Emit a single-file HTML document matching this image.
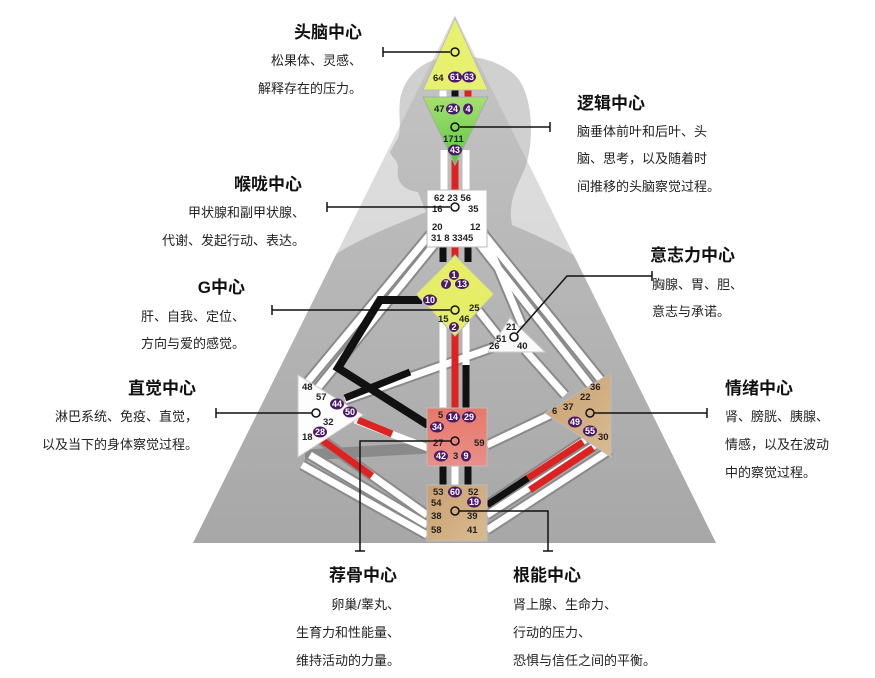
<!DOCTYPE html>
<html><head><meta charset="utf-8"><style>
html,body{margin:0;padding:0;background:#fff;width:875px;height:678px;overflow:hidden}
svg{display:block}
.t{font-family:"Liberation Sans","Noto Sans CJK SC",sans-serif;font-weight:bold;font-size:17px;fill:#111}
.d{font-family:"Liberation Sans","Noto Sans CJK SC",sans-serif;font-size:13px;fill:#222}
.g{font-family:"Liberation Sans",sans-serif;font-size:9.5px;font-weight:bold;fill:#222}
.p{font-family:"Liberation Sans",sans-serif;font-size:9px;font-weight:bold;fill:#fff}
</style></head><body>
<svg width="875" height="678" viewBox="0 0 875 678" xmlns="http://www.w3.org/2000/svg">
<defs>
<linearGradient id="bg" x1="0" y1="0" x2="0" y2="1"><stop offset="0" stop-color="#e2e2e2"/><stop offset="1" stop-color="#cfcfcf"/></linearGradient>
<linearGradient id="body" x1="0" y1="0" x2="0" y2="1"><stop offset="0" stop-color="#c4c4c4"/><stop offset="1" stop-color="#a6a6a6"/></linearGradient>
<linearGradient id="sac" x1="0" y1="0" x2="0" y2="1"><stop offset="0" stop-color="#e8786a"/><stop offset="1" stop-color="#e89088"/></linearGradient>
<linearGradient id="tan" x1="0" y1="0" x2="1" y2="1"><stop offset="0" stop-color="#c8a070"/><stop offset="1" stop-color="#d9bb92"/></linearGradient>
<linearGradient id="ajna" x1="0" y1="0" x2="0" y2="1"><stop offset="0" stop-color="#a6e070"/><stop offset="1" stop-color="#58c840"/></linearGradient>
<clipPath id="tri"><polygon points="455,15 193,543 716,543"/></clipPath>
<clipPath id="headc"><rect x="380" y="40" width="160" height="170"/></clipPath>
<path id="bodyp" d="M458,56 C428,56 405,72 400,100 C398,118 402,128 398,138 L390,152 C392,158 398,160 398,168 C396,180 402,190 418,192 L426,212 C380,232 320,250 290,300 L180,560 L740,560 L640,330 C615,270 560,245 512,225 C508,205 515,190 522,175 C535,150 535,95 515,75 C500,62 480,56 458,56 Z"/>
</defs>
<!-- background triangle -->
<polygon points="455,15 193,543 716,543" fill="url(#bg)"/>
<!-- body silhouette -->
<use href="#bodyp" clip-path="url(#headc)" fill="#d0d0d0"/>
<use href="#bodyp" clip-path="url(#tri)" fill="url(#body)"/>
<!-- channels: white strips -->
<g stroke="#8a8a8a" stroke-width="11" fill="none" stroke-linecap="butt">
<path d="M432,232 L305,385 M438,240 L312,395"/>
<path d="M482,232 L605,385 M476,240 L598,395"/>
<path d="M480,225 L522,325 M470,300 L500,338"/>
<path d="M428,448 L305,455 M427,515 L322,440 M427,525 L310,455 M427,535 L302,465"/>
<path d="M487,505 L585,440 M487,515 L595,445 M487,530 L610,450"/>
<path d="M487,445 L550,415 M525,350 L565,395 M345,400 L500,345"/>
</g>
<g stroke="#fff" stroke-width="7" fill="none">
<path d="M432,232 L305,385 M438,240 L312,395"/>
<path d="M482,232 L605,385 M476,240 L598,395"/>
<path d="M480,225 L522,325 M470,300 L500,338"/>
<path d="M428,448 L355,420 M427,515 L322,440 M427,525 L310,455 M427,535 L302,465"/>
<path d="M487,505 L585,440 M487,515 L595,445 M487,530 L610,450"/>
<path d="M487,445 L550,415 M525,350 L565,395 M345,400 L500,345"/>
</g>
<!-- vertical channels -->
<g stroke-width="7">
<line x1="443" y1="90" x2="443" y2="100" stroke="#fff"/>
<line x1="455" y1="90" x2="455" y2="100" stroke="#111"/>
<line x1="468" y1="90" x2="468" y2="100" stroke="#d22"/>
<line x1="444" y1="150" x2="444" y2="192" stroke="#fff"/>
<line x1="455" y1="160" x2="455" y2="192" stroke="#d22"/>
<line x1="466" y1="150" x2="466" y2="192" stroke="#fff"/>
<line x1="443" y1="245" x2="443" y2="262" stroke="#111"/>
<line x1="455" y1="245" x2="455" y2="262" stroke="#d22"/>
<line x1="468" y1="245" x2="468" y2="262" stroke="#111"/>
<line x1="443" y1="320" x2="443" y2="410" stroke="#fff"/>
<line x1="455" y1="320" x2="455" y2="410" stroke="#d22"/>
<line x1="466" y1="320" x2="466" y2="365" stroke="#fff"/>
<line x1="466" y1="365" x2="466" y2="410" stroke="#111"/>
<line x1="443" y1="463" x2="443" y2="487" stroke="#111"/>
<line x1="455" y1="463" x2="455" y2="487" stroke="#fff"/>
<line x1="468" y1="463" x2="468" y2="487" stroke="#111"/>
</g>
<!-- colored channel parts -->
<g stroke-width="7" fill="none">
<path d="M422,300 L380,300 L338,368 L428,425" stroke="#111" stroke-width="8"/>
<path d="M345,398 L410,372" stroke="#111"/>
<path d="M358,420 L392,434" stroke="#d22"/>
<path d="M322,440 L372,476" stroke="#d22"/>
<path d="M487,505 L528,478" stroke="#111"/>
<path d="M528,478 L583,442" stroke="#d22"/>
<path d="M530,490 L593,448" stroke="#d22"/>
</g>
<!-- centers -->
<polygon points="455,18 423,90 488,90" fill="#e8f070" stroke="#bbb"/>
<polygon points="423,97 488,97 455,165" fill="url(#ajna)" stroke="#aaa"/>
<rect x="427" y="190" width="60" height="57" fill="#fff" stroke="#bbb"/>
<polygon points="455,255 494,294 455,336 416,294" fill="#e6ee68" stroke="#bbb"/>
<polygon points="510,318 488,352 545,352" fill="#fafafa" stroke="#ccc"/>
<polygon points="298,375 363,415 298,457" fill="#fdfdfd" stroke="#ccc"/>
<rect x="427" y="408" width="60" height="58" fill="url(#sac)" stroke="#bbb"/>
<polygon points="611,373 611,457 545,413" fill="url(#tan)" stroke="#bbb"/>
<rect x="427" y="485" width="60" height="56" fill="url(#tan)" stroke="#bbb"/>
<!-- gate numbers -->
<g class="g">
<text x="433" y="81">64</text>
<text x="434" y="112">47</text>
<text x="443" y="142">1711</text>
<text x="434" y="201">62 23 56</text>
<text x="432" y="212">16</text><text x="468" y="212">35</text>
<text x="432" y="230">20</text><text x="470" y="230">12</text>
<text x="431" y="241">31 8 3345</text>
<text x="469" y="311">25</text><text x="438" y="322">15</text><text x="459" y="322">46</text>
<text x="506" y="330">21</text><text x="496" y="342">51</text><text x="489" y="349">26</text><text x="517" y="349">40</text>
<text x="302" y="390">48</text><text x="316" y="400">57</text><text x="323" y="425">32</text><text x="302" y="440">18</text>
<text x="590" y="390">36</text><text x="580" y="400">22</text><text x="563" y="410">37</text><text x="552" y="414">6</text><text x="598" y="440">30</text>
<text x="438" y="418">5</text><text x="433" y="446">27</text><text x="474" y="446">59</text><text x="453" y="459">3</text>
<text x="433" y="495">53</text><text x="468" y="495">52</text><text x="431" y="506">54</text><text x="431" y="519">38</text><text x="467" y="519">39</text><text x="431" y="533">58</text><text x="467" y="533">41</text>
</g>
<g fill="#4a1a6a">
<ellipse cx="455" cy="77" rx="7" ry="5.5"/><ellipse cx="469" cy="77" rx="7" ry="5.5"/>
<ellipse cx="453" cy="109" rx="7" ry="5.5"/><ellipse cx="468" cy="109" rx="5" ry="5.5"/>
<ellipse cx="455" cy="150" rx="7" ry="5.5"/>
<ellipse cx="454" cy="275" rx="5" ry="5"/><ellipse cx="446" cy="284" rx="5" ry="5"/><ellipse cx="462" cy="284" rx="7" ry="5"/>
<ellipse cx="430" cy="300" rx="7" ry="5.5"/><ellipse cx="454" cy="327" rx="5" ry="5"/>
<ellipse cx="337" cy="404" rx="7" ry="5.5"/><ellipse cx="350" cy="412" rx="7" ry="5.5"/><ellipse cx="320" cy="432" rx="7" ry="5.5"/>
<ellipse cx="575" cy="422" rx="7" ry="5.5"/><ellipse cx="590" cy="431" rx="7" ry="5.5"/>
<ellipse cx="453" cy="417" rx="7" ry="5.5"/><ellipse cx="469" cy="417" rx="7" ry="5.5"/><ellipse cx="437" cy="427" rx="7" ry="5.5"/>
<ellipse cx="441" cy="456" rx="7" ry="5.5"/><ellipse cx="466" cy="456" rx="5" ry="5.5"/>
<ellipse cx="455" cy="492" rx="7" ry="5.5"/><ellipse cx="474" cy="502" rx="7" ry="5.5"/>
</g>
<g class="p" text-anchor="middle">
<text x="455" y="80">61</text><text x="469" y="80">63</text>
<text x="453" y="112">24</text><text x="468" y="112">4</text><text x="455" y="153">43</text>
<text x="454" y="278">1</text><text x="446" y="287">7</text><text x="462" y="287">13</text>
<text x="430" y="303">10</text><text x="454" y="330">2</text>
<text x="337" y="407">44</text><text x="350" y="415">50</text><text x="320" y="435">28</text>
<text x="575" y="425">49</text><text x="590" y="434">55</text>
<text x="453" y="420">14</text><text x="469" y="420">29</text><text x="437" y="430">34</text>
<text x="441" y="459">42</text><text x="466" y="459">9</text>
<text x="455" y="495">60</text><text x="474" y="505">19</text>
</g>
<!-- connector lines -->
<g stroke="#111" stroke-width="1.5" fill="none">
<path d="M383,52 H450 M383,47 V57"/><circle cx="455" cy="52" r="4"/>
<path d="M460,127 H550 M550,122 V132"/><circle cx="455" cy="127" r="4"/>
<path d="M327,207 H450 M327,202 V212"/><circle cx="455" cy="207" r="4"/>
<path d="M272,310 H450 M272,305 V315"/><circle cx="455" cy="310" r="4"/>
<path d="M517,333 L567,276 H652 M652,271 V281"/><circle cx="514" cy="337" r="4"/>
<path d="M216,413 H312 M216,408 V418"/><circle cx="316" cy="413" r="4"/>
<path d="M594,413 H707 M707,408 V418"/><circle cx="590" cy="413" r="4"/>
<path d="M451,441 H360 V551 M355,551 H365"/><circle cx="455" cy="441" r="4"/>
<path d="M459,511 H548 V551 M543,551 H553"/><circle cx="455" cy="511" r="4"/>
</g>
<!-- labels -->
<g class="t">
<text x="362" y="38" text-anchor="end">头脑中心</text>
<text x="577" y="109">逻辑中心</text>
<text x="302" y="190" text-anchor="end">喉咙中心</text>
<text x="245" y="293" text-anchor="end">G中心</text>
<text x="196" y="394" text-anchor="end">直觉中心</text>
<text x="650" y="261">意志力中心</text>
<text x="725" y="394">情绪中心</text>
<text x="397" y="581" text-anchor="end">荐骨中心</text>
<text x="513" y="581">根能中心</text>
</g>
<g class="d">
<text x="362" y="65" text-anchor="end">松果体、灵感、</text>
<text x="362" y="93" text-anchor="end">解释存在的压力。</text>
<text x="577" y="136">脑垂体前叶和后叶、头</text>
<text x="577" y="163">脑、思考，以及随着时</text>
<text x="577" y="191">间推移的头脑察觉过程。</text>
<text x="305" y="217" text-anchor="end">甲状腺和副甲状腺、</text>
<text x="305" y="245" text-anchor="end">代谢、发起行动、表达。</text>
<text x="245" y="321" text-anchor="end">肝、自我、定位、</text>
<text x="245" y="348" text-anchor="end">方向与爱的感觉。</text>
<text x="198" y="421" text-anchor="end">淋巴系统、免疫、直觉，</text>
<text x="198" y="449" text-anchor="end">以及当下的身体察觉过程。</text>
<text x="652" y="289">胸腺、胃、胆、</text>
<text x="652" y="316">意志与承诺。</text>
<text x="725" y="421">肾、膀胱、胰腺、</text>
<text x="725" y="449">情感，以及在波动</text>
<text x="725" y="477">中的察觉过程。</text>
<text x="400" y="609" text-anchor="end">卵巢/睾丸、</text>
<text x="400" y="637" text-anchor="end">生育力和性能量、</text>
<text x="400" y="665" text-anchor="end">维持活动的力量。</text>
<text x="513" y="609">肾上腺、生命力、</text>
<text x="513" y="637">行动的压力、</text>
<text x="513" y="665">恐惧与信任之间的平衡。</text>
</g>
</svg>
</body></html>
